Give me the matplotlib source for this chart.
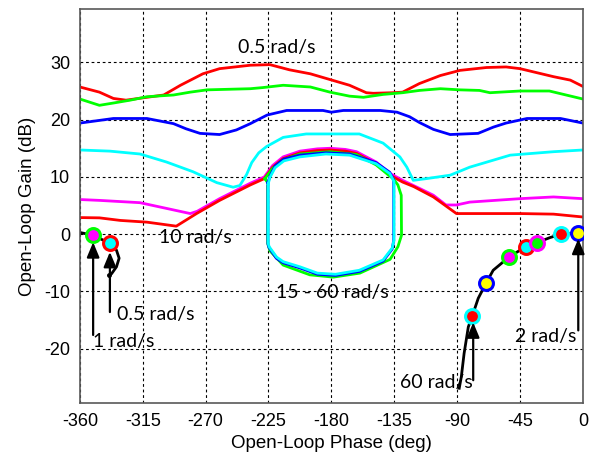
import matplotlib
matplotlib.use("Agg")
import matplotlib.pyplot as plt

plt.rcParams["axes.unicode_minus"] = False

# --- data (phase in deg, gain in dB) ---
red05_ph = [-360, -346, -336, -327, -315, -300, -288, -272, -260, -238, -224, -210, -195, -181,
            -167, -155, -150, -136, -129, -117, -102, -88, -69, -55, -45, -21, -9, 0]
red05_db = [25.7, 24.8, 23.7, 23.4, 23.8, 24.3, 26.0, 28.0, 28.9, 29.5, 29.6, 28.7, 28.0, 27.0,
            26.0, 24.7, 24.6, 24.7, 24.8, 26.3, 27.7, 28.6, 29.1, 29.2, 28.9, 27.5, 26.9, 25.8]

grn_top_ph = [-360, -346, -336, -324, -312, -293, -281, -269, -238, -229, -214.5, -195, -181, -167,
              -157, -143, -129, -117, -102, -88, -74, -66.5, -45, -24, -12, 0]
grn_top_db = [23.6, 22.5, 22.9, 23.4, 24.0, 24.3, 24.8, 25.2, 25.4, 25.6, 26.0, 25.7, 24.8, 24.1,
              23.9, 24.4, 24.7, 25.1, 25.4, 25.2, 25.1, 24.7, 25.0, 25.0, 24.3, 23.6]

blu_top_ph = [-360, -348, -336, -312, -293, -284, -274, -260, -248, -238, -226, -212, -186, -180,
              -171.5, -145, -133, -124, -117, -107, -95, -75, -64, -55, -40, -16, 0]
blu_top_db = [19.4, 19.8, 20.2, 20.2, 19.3, 18.4, 17.6, 17.4, 18.2, 19.3, 20.8, 21.6, 21.6, 21.3,
              21.6, 21.6, 21.3, 20.5, 19.5, 18.3, 17.4, 17.6, 18.7, 19.4, 20.2, 20.2, 19.4]

cyn_top_ph = [-360, -338.5, -317, -298, -279, -262, -250.3, -245.5, -240.7, -237, -232, -226.4, -214.5,
              -198, -160, -143, -131, -126, -121.4, -112, -95, -81, -52, -21, 0]
cyn_top_db = [14.7, 14.5, 14.0, 12.6, 10.9, 9.0, 8.2, 8.5, 10.4, 12.5, 14.2, 15.3, 16.9,
              17.5, 17.5, 15.9, 13.5, 11.7, 9.4, 9.7, 10.3, 11.7, 13.8, 14.4, 14.7]

mag_ph = [-360, -346, -317, -298, -281, -276, -260, -238, -228, -222, -214.5, -202.5, -190, -181,
          -170, -162, -148, -138, -129, -117, -107, -98, -90.5, -81, -45, -21, 0]
mag_db = [6.05, 5.9, 5.5, 4.5, 3.6, 4.0, 6.2, 8.9, 10.0, 12.0, 13.5, 14.5, 14.9, 15.0,
          14.8, 14.4, 12.6, 10.6, 9.4, 8.0, 6.8, 5.1, 5.1, 5.6, 6.2, 6.5, 6.2]

red10_ph = [-360, -346, -331, -312, -291, -276.5, -260, -238, -228, -222, -214.5, -202.5, -190, -181,
            -170, -162, -148, -138, -129, -121, -107, -90.5, -45, -21, 0]
red10_db = [2.9, 2.85, 2.4, 2.1, 1.4, 3.6, 5.9, 8.6, 9.7, 11.7, 13.2, 14.2, 14.6, 14.7,
            14.5, 14.1, 12.3, 10.3, 9.1, 8.3, 6.5, 3.6, 3.6, 3.5, 3.0]

# closed loops of the 15 - 60 rad/s curves
grn_loop_ph = [-227.6, -222, -214.5, -202.5, -181, -162, -148, -138, -135.7, -132.4, -130, -129.8,
               -132.4, -138, -159.6, -178.6, -195.4, -214.5, -224, -225.6, -225.6, -227.6]
grn_loop_db = [9.7, 11.5, 13.0, 14.0, 14.4, 13.9, 12.1, 10.1, 9.7, 8.6, 6.8, -0.2,
               -2.2, -4.4, -6.8, -7.5, -7.1, -5.4, -2.9, -1.6, 9.0, 9.7]

blu_loop_ph = [-225.4, -224, -220.3, -214, -202.5, -184, -167, -148, -138.2, -135.4, -135.4,
               -136.5, -143, -160, -177, -190, -202.5, -214.5, -219.4, -224.7, -225.4, -225.4]
blu_loop_db = [9.0, 10.1, 11.9, 13.1, 13.8, 14.2, 14.0, 12.5, 10.8, 9.5, -1.1,
               -2.6, -4.7, -6.5, -7.2, -7.0, -5.9, -5.0, -4.2, -2.3, -1.7, 9.0]

cyn_loop_ph = [-225.2, -224, -220.3, -214, -202.5, -184, -167, -148, -138.2, -135.2, -135.2,
               -136.4, -143, -160, -177, -190, -202.5, -214.5, -219.2, -224.5, -225.2, -225.2]
cyn_loop_db = [8.8, 9.9, 11.6, 12.8, 13.5, 14.0, 13.8, 12.3, 10.6, 9.2, -1.0,
               -2.4, -4.5, -6.3, -7.0, -6.8, -5.7, -4.8, -4.0, -2.2, -1.6, 8.8]

# black loci near the critical point
blk_r_ph = [-88.5, -87, -85, -82, -79.2, -74.9, -69.4, -64.2, -52.9, -41, -33.1, -23.6, -15.7, -3.3]
blk_r_db = [-26.9, -24.9, -20.8, -16.2, -14.3, -11.2, -8.6, -6.3, -4.0, -2.2, -1.5, -0.6, 0.0, 0.2]
blk_l_ph = [-360, -350.5, -338.5, -333.8, -331.9, -333.8, -337.3, -339]
blk_l_db = [0.3, -0.2, -1.6, -2.8, -4.2, -5.7, -6.9, -7.2]

mk_ph = [-350.5, -338.5, -79.2, -69.4, -52.9, -41, -33.1, -15.7, -3.3]
mk_db = [-0.2, -1.6, -14.3, -8.6, -4.0, -2.2, -1.5, 0.0, 0.2]
mk_edge = ["lime", "red", "cyan", "blue", "lime", "red", "magenta", "cyan", "blue"]
mk_face = ["magenta", "cyan", "red", "yellow", "magenta", "cyan", "lime", "red", "yellow"]

# arrows: (x, tail y, tip y)
arrows = [(-350.5, -17.6, -1.4), (-338.5, -13.6, -3.1), (-78.5, -25.5, -15.4), (-3.3, -16.8, -0.8)]

labels = [("0.5 rad/s", -219, 32.6), ("10 rad/s", -277, -0.6), ("15 - 60 rad/s", -179, -10.1),
          ("0.5 rad/s", -305.5, -14.0), ("1 rad/s", -328.5, -18.8), ("60 rad/s", -105, -25.9),
          ("2 rad/s", -26.5, -17.8)]

xticks = [-360, -315, -270, -225, -180, -135, -90, -45, 0]
yticks = [-20, -10, 0, 10, 20, 30]

fig = plt.figure(figsize=(5.96, 4.55), dpi=100)
ax = fig.add_axes([0.134, 0.114, 0.844, 0.866])

lw = 2.0
ax.plot(red05_ph, red05_db, color="red", lw=lw)
ax.plot(grn_top_ph, grn_top_db, color="lime", lw=lw)
ax.plot(blu_top_ph, blu_top_db, color="blue", lw=lw)
ax.plot(cyn_top_ph, cyn_top_db, color="cyan", lw=lw)
ax.plot(mag_ph, mag_db, color="magenta", lw=lw)
ax.plot(red10_ph, red10_db, color="red", lw=lw)
ax.plot(grn_loop_ph, grn_loop_db, color="lime", lw=lw)
ax.plot(blu_loop_ph, blu_loop_db, color="blue", lw=lw)
ax.plot(cyn_loop_ph, cyn_loop_db, color="cyan", lw=lw)

ax.plot(blk_r_ph, blk_r_db, color="black", lw=2)
ax.plot(blk_l_ph, blk_l_db, color="black", lw=2)
ax.plot(blk_l_ph[-1], blk_l_db[-1], "k.", ms=5)
for x, y, ec, fc in zip(mk_ph, mk_db, mk_edge, mk_face):
    ax.plot(x, y, "o", ms=10, mec=ec, mfc=fc, mew=2.2, zorder=5)

for x, y0, y1 in arrows:
    ax.annotate("", xy=(x, y1), xytext=(x, y0),
                arrowprops=dict(arrowstyle="-|>,head_length=0.6,head_width=0.25", color="k",
                                lw=1.6, mutation_scale=15, shrinkA=0, shrinkB=0), zorder=6)

for txt, x, y in labels:
    ax.text(x, y, txt, ha="center", va="center", fontsize=14, family="Lato", zorder=7)

ax.set_xlim(-360, 0)
ax.set_ylim(-29.5, 39.3)
ax.set_xticks(xticks)
ax.set_yticks(yticks)
ax.grid(True, color="black", linestyle=(0, (2.5, 2.5)), lw=0.8)
ax.tick_params(direction="in", length=0, labelsize=13, pad=7)
for lab in ax.get_xticklabels() + ax.get_yticklabels():
    lab.set_family("Liberation Sans")
for s in ax.spines.values():
    s.set_color("0.35")
    s.set_linewidth(1.2)

ax.set_xlabel("Open-Loop Phase (deg)", fontsize=13.5, family="Liberation Sans", labelpad=4)
ax.set_ylabel("Open-Loop Gain (dB)", fontsize=13.5, family="Liberation Sans", labelpad=6)

fig.savefig("out.png", dpi=100)
